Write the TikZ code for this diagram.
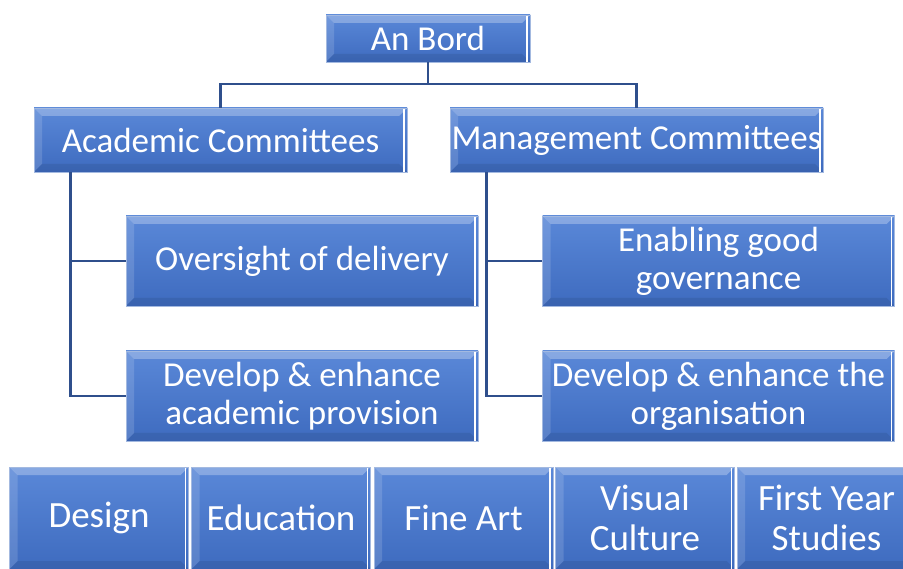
\documentclass[tikz,border=0pt]{standalone}
\usepackage{fontspec}
\setmainfont{Carlito}
\usetikzlibrary{positioning,calc}
\definecolor{boxtop}{HTML}{5A88D8}
\definecolor{boxbot}{HTML}{3E6BBF}
\definecolor{boxedge}{HTML}{A3B9E0}
\definecolor{linkblue}{HTML}{2F4F8C}

\begin{document}
\begin{tikzpicture}[
    x=1pt, y=-1pt,
    box/.style={rectangle, draw=boxedge, line width=0.8pt, top color=boxtop, bottom color=boxbot,
        text=white, align=center, inner sep=0pt, font=\fontsize{35}{38}\selectfont,
        path picture={
            \fill[white, opacity=0.28] (path picture bounding box.north west) -- (path picture bounding box.north east)
                -- ([shift={(-8pt,-8pt)}]path picture bounding box.north east) -- ([shift={(8pt,-8pt)}]path picture bounding box.north west) -- cycle;
            \fill[white, opacity=0.14] (path picture bounding box.north west) -- ([shift={(8pt,-8pt)}]path picture bounding box.north west)
                -- ([shift={(8pt,8pt)}]path picture bounding box.south west) -- (path picture bounding box.south west) -- cycle;
            \fill[black, opacity=0.08] (path picture bounding box.south west) -- (path picture bounding box.south east)
                -- ([shift={(-8pt,8pt)}]path picture bounding box.south east) -- ([shift={(8pt,8pt)}]path picture bounding box.south west) -- cycle;
            \draw[white, line width=1.2pt] ([xshift=-3pt]path picture bounding box.north east) -- ([xshift=-3pt]path picture bounding box.south east);
        }},
    topbox/.style={box, minimum width=204, minimum height=47},
    committee/.style={box, minimum width=373, minimum height=64},
    remit/.style={box, minimum width=352, minimum height=90},
    school/.style={box, minimum width=179, minimum height=102, font=\fontsize{37}{40}\selectfont},
    link/.style={draw=linkblue, line width=2.4pt}
]
\useasboundingbox (0,0) rectangle (903,569);

% Board and committees
\node[topbox] (bord) at (428,38.5) {An Bord};
\node[committee] (acad) at (220.5,140) {Academic Committees};
\node[committee] (mgmt) at (636.5,140) {Management Committees};

% Remits of each committee
\node[remit] (oversight) at (302,261) {Oversight of delivery};
\node[remit] (acadprov) at (302,396) {Develop \& enhance\\academic provision};
\node[remit] (governance) at (718.5,261) {Enabling good\\governance};
\node[remit] (orgdev) at (718.5,396) {Develop \& enhance the\\organisation};

% Schools
\node[school] (design) at (99,518) {Design};
\node[school] (education) at (281,518) {Education};
\node[school] (fineart) at (463.5,518) {Fine Art};
\node[school] (visual) at (645,518) {Visual\\Culture};
\node[school] (firstyear) at (826.5,518) {First Year\\Studies};

% Connectors
\coordinate (split) at (428,84);
\draw[link] (bord.south) -- (split);
\draw[link] (acad.north) |- (split) -| (mgmt.north);
\draw[link] ([xshift=37pt]acad.south west) |- (oversight.west);
\draw[link] ([xshift=37pt]acad.south west) |- (acadprov.west);
\draw[link] ([xshift=37pt]mgmt.south west) |- (governance.west);
\draw[link] ([xshift=37pt]mgmt.south west) |- (orgdev.west);

\end{tikzpicture}
\end{document}
